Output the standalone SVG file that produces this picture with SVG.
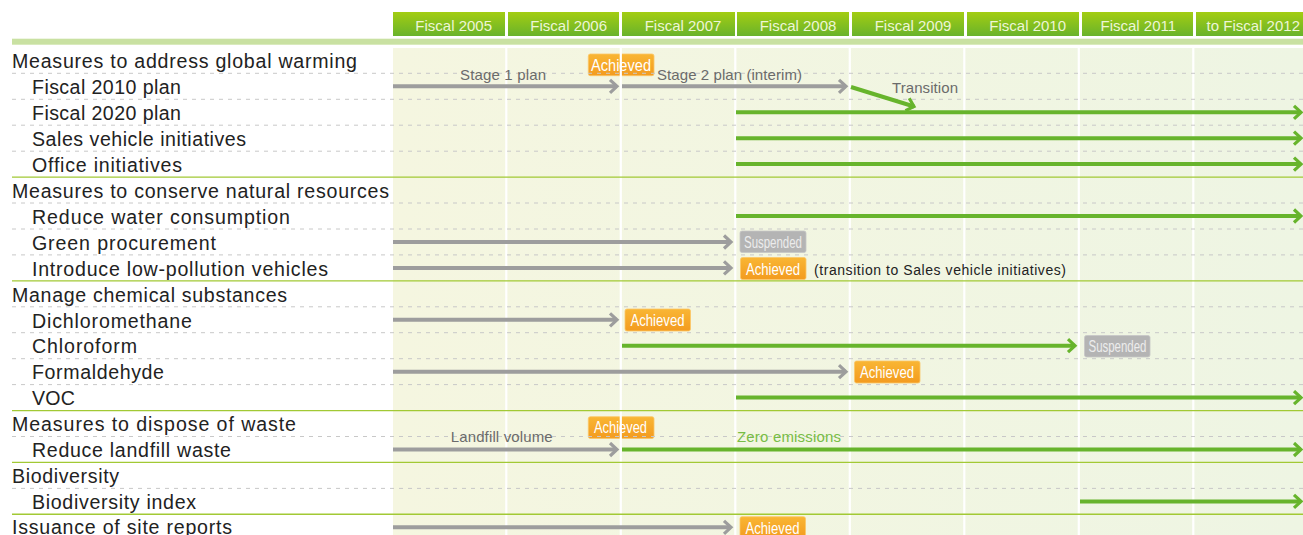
<svg xmlns="http://www.w3.org/2000/svg" width="1303" height="535" viewBox="0 0 1303 535">
<defs>
<linearGradient id="hdr" x1="0" y1="0" x2="0" y2="1">
<stop offset="0" stop-color="#a3cd12"/>
<stop offset="1" stop-color="#69b32b"/>
</linearGradient>
<linearGradient id="bg" x1="0" y1="0" x2="1" y2="0">
<stop offset="0" stop-color="#f5f6e0"/>
<stop offset="1" stop-color="#eef5e3"/>
</linearGradient>
<linearGradient id="org" x1="0" y1="0" x2="0" y2="1">
<stop offset="0" stop-color="#f9b634"/>
<stop offset="1" stop-color="#f39b1f"/>
</linearGradient>
<marker id="ag" markerUnits="userSpaceOnUse" markerWidth="14" markerHeight="18" refX="9" refY="8" orient="auto">
<path d="M2,1.5 L9,8 L2,14.5" fill="none" stroke="#9d9d9d" stroke-width="3.2"/>
</marker>
<marker id="an" markerUnits="userSpaceOnUse" markerWidth="14" markerHeight="18" refX="9" refY="8" orient="auto">
<path d="M2,1.5 L9,8 L2,14.5" fill="none" stroke="#67b42c" stroke-width="3.2"/>
</marker>
<style>
.lbl{font-family:"Liberation Sans",Arial,sans-serif;font-size:19.6px;fill:#222;}
.hd{font-family:"Liberation Sans",Arial,sans-serif;font-size:15px;fill:#eef6d6;text-anchor:middle;}
.note{font-family:"Liberation Sans",Arial,sans-serif;font-size:15px;fill:#6b6b6b;}
.small{font-family:"Liberation Sans",Arial,sans-serif;font-size:14px;fill:#222;}
.bt{font-family:"Liberation Sans",Arial,sans-serif;font-size:16px;fill:#fff;}
.st{font-family:"Liberation Sans",Arial,sans-serif;font-size:16px;fill:#ececec;}
.hbox{fill:url(#hdr);}
.dash{stroke:#c8c8c8;stroke-width:1;stroke-dasharray:4 5;fill:none;}
.sol{stroke:#a2c934;stroke-width:1.4;fill:none;}
.vsep{stroke:#ffffff;stroke-width:2.2;}
.ach{fill:url(#org);stroke:#fbc667;stroke-width:0.8;}
.sus{fill:#b4b4b4;stroke:#c6c6c6;stroke-width:0.8;}
.g{stroke:#9d9d9d;stroke-width:4;fill:none;marker-end:url(#ag);}
.n{stroke:#67b42c;stroke-width:4;fill:none;marker-end:url(#an);}
</style>
</defs>
<rect width="1303" height="535" fill="#ffffff"/>
<!-- header -->
<g id="header">
<rect class="hbox" x="393" y="12" width="112" height="24"/>
<rect class="hbox" x="508" y="12" width="111" height="24"/>
<rect class="hbox" x="622" y="12" width="113" height="24"/>
<rect class="hbox" x="737" y="12" width="112" height="24"/>
<rect class="hbox" x="852" y="12" width="112" height="24"/>
<rect class="hbox" x="967" y="12" width="112" height="24"/>
<rect class="hbox" x="1082" y="12" width="111" height="24"/>
<rect class="hbox" x="1196" y="12" width="107" height="24"/>
<text class="hd" x="453.7" y="30.5">Fiscal 2005</text>
<text class="hd" x="568.7" y="30.5">Fiscal 2006</text>
<text class="hd" x="683" y="30.5">Fiscal 2007</text>
<text class="hd" x="798" y="30.5">Fiscal 2008</text>
<text class="hd" x="913" y="30.5">Fiscal 2009</text>
<text class="hd" x="1027.7" y="30.5">Fiscal 2010</text>
<text class="hd" x="1138.3" y="30.5">Fiscal 2011</text>
<text class="hd" x="1253.3" y="30.5">to Fiscal 2012</text>
<rect x="12" y="38.7" width="1291" height="6" fill="#c9e1a2"/>
</g>
<!-- chart background -->
<rect x="393" y="48" width="910" height="487" fill="url(#bg)"/>
<!-- badges sitting under grid lines -->
<g id="badge-achieved-stage1">
<rect class="ach" x="588.3" y="54" width="65.7" height="21.7" rx="2"/>
<text class="bt" x="591" y="70.5" textLength="60" lengthAdjust="spacingAndGlyphs">Achieved</text>
</g>
<g id="badge-achieved-landfill">
<rect class="ach" x="588.3" y="416.7" width="65.7" height="21.7" rx="2"/>
<text class="bt" x="594" y="433" textLength="53" lengthAdjust="spacingAndGlyphs">Achieved</text>
</g>
<!-- grid -->
<g id="grid">
<line class="vsep" x1="506.3" y1="48" x2="506.3" y2="535"/>
<line class="vsep" x1="620.8" y1="48" x2="620.8" y2="535"/>
<line class="vsep" x1="735.3" y1="48" x2="735.3" y2="535"/>
<line class="vsep" x1="849.8" y1="48" x2="849.8" y2="535"/>
<line class="vsep" x1="964.3" y1="48" x2="964.3" y2="535"/>
<line class="vsep" x1="1078.8" y1="48" x2="1078.8" y2="535"/>
<line class="vsep" x1="1193.3" y1="48" x2="1193.3" y2="535"/>
<line class="dash" x1="12" y1="73.3" x2="1303" y2="73.3"/>
<line class="dash" x1="12" y1="99.3" x2="1303" y2="99.3"/>
<line class="dash" x1="12" y1="125.2" x2="1303" y2="125.2"/>
<line class="dash" x1="12" y1="151.2" x2="1303" y2="151.2"/>
<line class="sol" x1="12" y1="177.1" x2="1303" y2="177.1"/>
<line class="dash" x1="12" y1="203" x2="1303" y2="203"/>
<line class="dash" x1="12" y1="229" x2="1303" y2="229"/>
<line class="dash" x1="12" y1="254.9" x2="1303" y2="254.9"/>
<line class="sol" x1="12" y1="280.9" x2="1303" y2="280.9"/>
<line class="dash" x1="12" y1="306.8" x2="1303" y2="306.8"/>
<line class="dash" x1="12" y1="332.7" x2="1303" y2="332.7"/>
<line class="dash" x1="12" y1="358.7" x2="1303" y2="358.7"/>
<line class="dash" x1="12" y1="384.6" x2="1303" y2="384.6"/>
<line class="sol" x1="12" y1="410.6" x2="1303" y2="410.6"/>
<line class="dash" x1="12" y1="436.5" x2="1303" y2="436.5"/>
<line class="sol" x1="12" y1="462.4" x2="1303" y2="462.4"/>
<line class="dash" x1="12" y1="488.4" x2="1303" y2="488.4"/>
<line class="sol" x1="12" y1="514.3" x2="1303" y2="514.3"/>
</g>
<!-- row labels -->
<g id="row-global-warming"><text class="lbl" x="12" y="68.1" textLength="345" lengthAdjust="spacing">Measures to address global warming</text></g>
<g id="row-fiscal-2010-plan"><text class="lbl" x="32" y="94" textLength="149" lengthAdjust="spacing">Fiscal 2010 plan</text></g>
<g id="row-fiscal-2020-plan"><text class="lbl" x="32" y="120" textLength="149" lengthAdjust="spacing">Fiscal 2020 plan</text></g>
<g id="row-sales-vehicle"><text class="lbl" x="32" y="145.9" textLength="214" lengthAdjust="spacing">Sales vehicle initiatives</text></g>
<g id="row-office"><text class="lbl" x="32" y="171.8" textLength="150" lengthAdjust="spacing">Office initiatives</text></g>
<g id="row-natural-resources"><text class="lbl" x="12" y="197.8" textLength="377" lengthAdjust="spacing">Measures to conserve natural resources</text></g>
<g id="row-water"><text class="lbl" x="32" y="223.7" textLength="258" lengthAdjust="spacing">Reduce water consumption</text></g>
<g id="row-green-procurement"><text class="lbl" x="32" y="249.7" textLength="184" lengthAdjust="spacing">Green procurement</text></g>
<g id="row-low-pollution"><text class="lbl" x="32" y="275.6" textLength="296" lengthAdjust="spacing">Introduce low-pollution vehicles</text></g>
<g id="row-chemical"><text class="lbl" x="12" y="301.5" textLength="275" lengthAdjust="spacing">Manage chemical substances</text></g>
<g id="row-dichloromethane"><text class="lbl" x="32" y="327.5" textLength="160" lengthAdjust="spacing">Dichloromethane</text></g>
<g id="row-chloroform"><text class="lbl" x="32" y="353.4" textLength="105" lengthAdjust="spacing">Chloroform</text></g>
<g id="row-formaldehyde"><text class="lbl" x="32" y="379.4" textLength="132" lengthAdjust="spacing">Formaldehyde</text></g>
<g id="row-voc"><text class="lbl" x="32" y="405.3" textLength="43" lengthAdjust="spacing">VOC</text></g>
<g id="row-waste"><text class="lbl" x="12" y="431.2" textLength="284" lengthAdjust="spacing">Measures to dispose of waste</text></g>
<g id="row-landfill"><text class="lbl" x="32" y="457.2" textLength="199" lengthAdjust="spacing">Reduce landfill waste</text></g>
<g id="row-biodiversity"><text class="lbl" x="12" y="483.1" textLength="107" lengthAdjust="spacing">Biodiversity</text></g>
<g id="row-biodiversity-index"><text class="lbl" x="32" y="509" textLength="164" lengthAdjust="spacing">Biodiversity index</text></g>
<g id="row-site-reports"><text class="lbl" x="12" y="533.6" textLength="220" lengthAdjust="spacing">Issuance of site reports</text></g>
<!-- connector labels -->
<g id="notes">
<text class="note" x="460" y="80" textLength="86" lengthAdjust="spacing">Stage 1 plan</text>
<text class="note" x="657" y="80" textLength="145" lengthAdjust="spacing">Stage 2 plan (interim)</text>
<text class="note" x="892" y="93" textLength="66" lengthAdjust="spacing">Transition</text>
<text class="note" x="450.7" y="441.6" textLength="102" lengthAdjust="spacing">Landfill volume</text>
<text class="note" x="737" y="441.6" textLength="104" lengthAdjust="spacing" style="fill:#78bd45">Zero emissions</text>
<text class="small" x="814" y="274.5" textLength="252" lengthAdjust="spacing">(transition to Sales vehicle initiatives)</text>
</g>
<!-- connectors -->
<g id="connectors">
<line class="g" x1="393" y1="86.3" x2="617" y2="86.3"/>
<line class="g" x1="622" y1="86.3" x2="846" y2="86.3"/>
<line class="n" x1="851" y1="87" x2="914" y2="106.5"/>
<line class="n" x1="736" y1="112.3" x2="1301" y2="112.3"/>
<line class="n" x1="736" y1="138.2" x2="1301" y2="138.2"/>
<line class="n" x1="736" y1="164.1" x2="1301" y2="164.1"/>
<line class="n" x1="736" y1="216" x2="1301" y2="216"/>
<line class="g" x1="393" y1="242" x2="731" y2="242"/>
<line class="g" x1="393" y1="267.9" x2="731" y2="267.9"/>
<line class="g" x1="393" y1="319.8" x2="617" y2="319.8"/>
<line class="n" x1="622" y1="345.7" x2="1075" y2="345.7"/>
<line class="g" x1="393" y1="371.7" x2="846" y2="371.7"/>
<line class="n" x1="736" y1="397.6" x2="1301" y2="397.6"/>
<line class="g" x1="393" y1="449.5" x2="617" y2="449.5"/>
<line class="n" x1="622" y1="449.5" x2="1301" y2="449.5"/>
<line class="n" x1="1080" y1="501.4" x2="1301" y2="501.4"/>
<line class="g" x1="393" y1="527.3" x2="731" y2="527.3"/>
</g>
<!-- status badges -->
<g id="badge-suspended-green">
<rect class="sus" x="740" y="231" width="66" height="21.5" rx="2"/>
<text class="st" x="744" y="247.5" textLength="58" lengthAdjust="spacingAndGlyphs">Suspended</text>
</g>
<g id="badge-achieved-lowpollution">
<rect class="ach" x="740.5" y="257.5" width="65.5" height="22" rx="2"/>
<text class="bt" x="746" y="274.5" textLength="54" lengthAdjust="spacingAndGlyphs">Achieved</text>
</g>
<g id="badge-achieved-dichloromethane">
<rect class="ach" x="625" y="309" width="65.5" height="22" rx="2"/>
<text class="bt" x="630.5" y="326" textLength="54" lengthAdjust="spacingAndGlyphs">Achieved</text>
</g>
<g id="badge-suspended-chloroform">
<rect class="sus" x="1084.5" y="335.5" width="65.5" height="21.5" rx="2"/>
<text class="st" x="1088.5" y="352" textLength="58" lengthAdjust="spacingAndGlyphs">Suspended</text>
</g>
<g id="badge-achieved-formaldehyde">
<rect class="ach" x="854.5" y="361" width="65.5" height="22" rx="2"/>
<text class="bt" x="860" y="378" textLength="54" lengthAdjust="spacingAndGlyphs">Achieved</text>
</g>
<g id="badge-achieved-site-reports">
<rect class="ach" x="740" y="516.7" width="65.5" height="22" rx="2"/>
<text class="bt" x="745.5" y="533.7" textLength="54" lengthAdjust="spacingAndGlyphs">Achieved</text>
</g>
</svg>
